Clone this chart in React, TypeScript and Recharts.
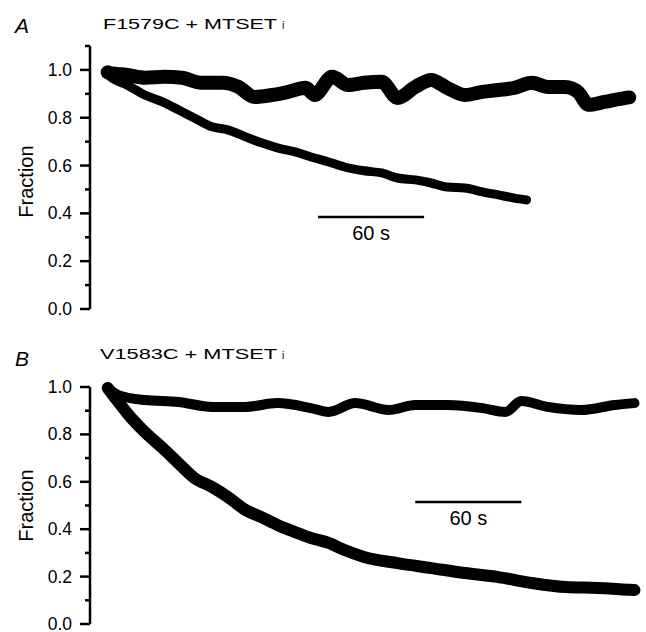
import React from "react";
import { LineChart, Line, XAxis, YAxis, ReferenceLine } from "recharts";

// time (s), 60 s scale bar = ~106 px
const aUpperTime = [0, 1, 11, 21, 32, 42, 53, 65, 74, 83, 93, 102, 112, 117, 127, 136, 145, 155, 164, 174, 183, 192, 202, 212, 221, 230, 240, 249, 259, 266, 272, 281, 293, 295];
const aUpperFrac = [0.99, 0.987, 0.979, 0.967, 0.971, 0.967, 0.946, 0.946, 0.929, 0.887, 0.895, 0.908, 0.925, 0.895, 0.971, 0.937, 0.946, 0.95, 0.883, 0.929, 0.958, 0.925, 0.895, 0.908, 0.916, 0.925, 0.946, 0.929, 0.929, 0.908, 0.854, 0.866, 0.883, 0.885];

const aLowerTime = [0, 1, 11, 21, 31, 40, 49, 59, 68, 78, 87, 96, 106, 115, 125, 134, 145, 155, 164, 174, 183, 192, 202, 212, 221, 230, 237];
const aLowerFrac = [0.99, 0.975, 0.937, 0.895, 0.866, 0.833, 0.799, 0.762, 0.749, 0.72, 0.695, 0.674, 0.657, 0.636, 0.615, 0.594, 0.578, 0.569, 0.548, 0.54, 0.527, 0.51, 0.506, 0.49, 0.477, 0.464, 0.456];

const bUpperTime = [0, 6, 21, 40, 59, 78, 96, 115, 125, 140, 159, 174, 192, 212, 225, 234, 249, 268, 287, 298];
const bUpperFrac = [0.996, 0.966, 0.945, 0.937, 0.916, 0.916, 0.932, 0.911, 0.895, 0.932, 0.903, 0.924, 0.924, 0.911, 0.895, 0.941, 0.916, 0.903, 0.924, 0.932];

const bLowerTime = [0, 6, 11, 21, 31, 40, 49, 59, 68, 78, 87, 96, 106, 115, 125, 134, 145, 164, 183, 202, 221, 240, 259, 277, 298];
const bLowerFrac = [0.996, 0.937, 0.89, 0.81, 0.743, 0.679, 0.616, 0.578, 0.536, 0.481, 0.451, 0.418, 0.388, 0.363, 0.342, 0.312, 0.283, 0.257, 0.236, 0.215, 0.198, 0.173, 0.156, 0.152, 0.143];

const ticksA = [0, 0.1, 0.2, 0.3, 0.4, 0.5, 0.6, 0.7, 0.8, 0.9, 1.0, 1.1];
const ticksB = [0, 0.1, 0.2, 0.3, 0.4, 0.5, 0.6, 0.7, 0.8, 0.9, 1.0];

const toPoints = (ts: number[], vs: number[]) => ts.map((t, i) => ({ t, v: vs[i] }));

const FONT = '"Liberation Sans", Arial, sans-serif';

function FracTick(props: any) {
  const { x, y, payload } = props;
  const v = payload.value;
  const major = Math.round(v * 10) % 2 === 0;
  return (
    <g>
      <line x1={x - (major ? 10 : 5)} x2={x} y1={y} y2={y} stroke="#000" strokeWidth={2.5} />
      {major && (
        <text x={x - 18} y={y} dy={6} textAnchor="end" fontSize={17.5} fontFamily={FONT} fill="#000">
          {v.toFixed(1)}
        </text>
      )}
    </g>
  );
}

const scaleLabel = (p: any) => {
  const vb = p.viewBox;
  return (
    <text x={vb.x + vb.width / 2} y={vb.y + 23} textAnchor="middle" fontSize={20} fontFamily={FONT} fill="#000">
      60 s
    </text>
  );
};

function Panel(props: {
  top: number;
  height: number;
  marginTop: number;
  marginBottom: number;
  ticks: number[];
  domainMax: number;
  upper: { t: number; v: number }[];
  lower: { t: number; v: number }[];
  upperWidth: number;
  lowerWidth: number;
  bar: { start: number; y: number };
}) {
  return (
    <div style={{ position: "absolute", left: 0, top: props.top }}>
      <LineChart
        width={646}
        height={props.height}
        margin={{ top: props.marginTop, right: 8, bottom: props.marginBottom, left: 0 }}
      >
        <XAxis type="number" dataKey="t" domain={[-10, 300]} hide allowDuplicatedCategory={false} />
        <YAxis
          width={90}
          domain={[0, props.domainMax]}
          ticks={props.ticks}
          interval={0}
          tickSize={0}
          tickMargin={0}
          tickLine={false}
          axisLine={{ stroke: "#000", strokeWidth: 2.5 }}
          tick={<FracTick />}
        />
        <Line
          data={props.upper}
          dataKey="v"
          type="monotone"
          stroke="#000"
          strokeWidth={props.upperWidth}
          strokeLinejoin="round"
          strokeLinecap="round"
          dot={false}
          isAnimationActive={false}
        />
        <Line
          data={props.lower}
          dataKey="v"
          type="monotone"
          stroke="#000"
          strokeWidth={props.lowerWidth}
          strokeLinejoin="round"
          strokeLinecap="round"
          dot={false}
          isAnimationActive={false}
        />
        <ReferenceLine
          segment={[
            { x: props.bar.start, y: props.bar.y },
            { x: props.bar.start + 60, y: props.bar.y },
          ]}
          stroke="#000"
          strokeWidth={2.5}
          label={scaleLabel}
        />
      </LineChart>
    </div>
  );
}

export default function App() {
  return (
    <div
      style={{
        position: "absolute",
        left: 0,
        top: 0,
        width: 646,
        height: 632,
        background: "#fff",
        fontFamily: FONT,
      }}
    >
      <Panel
        top={0}
        height={320}
        marginTop={46}
        marginBottom={11}
        ticks={ticksA}
        domainMax={1.1}
        upper={toPoints(aUpperTime, aUpperFrac)}
        lower={toPoints(aLowerTime, aLowerFrac)}
        upperWidth={14}
        lowerWidth={9}
        bar={{ start: 119, y: 0.385 }}
      />
      <Panel
        top={330}
        height={302}
        marginTop={57}
        marginBottom={8}
        ticks={ticksB}
        domainMax={1}
        upper={toPoints(bUpperTime, bUpperFrac)}
        lower={toPoints(bLowerTime, bLowerFrac)}
        upperWidth={10}
        lowerWidth={12}
        bar={{ start: 174, y: 0.515 }}
      />
      <svg
        width={646}
        height={632}
        style={{ position: "absolute", left: 0, top: 0, pointerEvents: "none" }}
        fontFamily={FONT}
        fill="#000"
      >
        <text x={15} y={33} fontSize={21} fontStyle="italic">A</text>
        <text x={103} y={28.5} fontSize={15.5} textLength={174} lengthAdjust="spacingAndGlyphs">F1579C + MTSET</text>
        <text x={282} y={28.5} fontSize={10.5}>i</text>
        <text transform="translate(33,181.5) rotate(-90)" textAnchor="middle" fontSize={20}>Fraction</text>

        <text x={15} y={366} fontSize={21} fontStyle="italic">B</text>
        <text x={100} y={359} fontSize={15.5} textLength={177} lengthAdjust="spacingAndGlyphs">V1583C + MTSET</text>
        <text x={282} y={359} fontSize={10.5}>i</text>
        <text transform="translate(33,505.5) rotate(-90)" textAnchor="middle" fontSize={20}>Fraction</text>
      </svg>
    </div>
  );
}
